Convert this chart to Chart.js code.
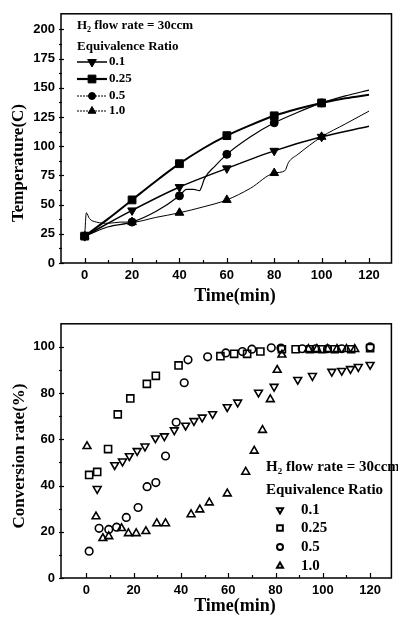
<!DOCTYPE html>
<html><head><meta charset="utf-8">
<script src="https://cdn.jsdelivr.net/npm/chart.js@4/dist/chart.umd.min.js"></script>
<style>
html,body{margin:0;padding:0;background:#fff;overflow:hidden;}
#w1{position:absolute;left:0;top:0;width:398px;height:310px;}
#w2{position:absolute;left:0;top:310px;width:398px;height:311px;}
</style></head><body>
<div id="w1"><canvas id="c1"></canvas></div>
<div id="w2"><canvas id="c2"></canvas></div>
<script>
// ---------- data ----------
const ratioLabels = ['0.1', '0.25', '0.5', '1.0'];
const flowLabel = 'H2 flow rate = 30ccm';
const xTickValues = [0, 10, 20, 30, 40, 50, 60, 70, 80, 90, 100, 110, 120];
const tempTickValues = [0, 12.5, 25, 37.5, 50, 62.5, 75, 87.5, 100, 112.5, 125, 137.5, 150, 162.5, 175, 187.5, 200];
const convTickValues = [0, 10, 20, 30, 40, 50, 60, 70, 80, 90, 100];
const markerTimes = [0, 20, 40, 60, 80, 100];

// Temperature curves (top)
const tempTime01 = [0, 20, 40, 60, 80, 100, 120];
const tempVal01  = [23, 45, 65, 81, 96, 108, 117];
const tempTime025 = [0, 10, 20, 30, 40, 50, 60, 70, 80, 90, 100, 110, 120];
const tempVal025  = [23, 38, 54, 70, 85, 98, 109, 118, 126, 132, 137, 141, 144];
const tempTime05 = [0, 10, 20, 30, 40, 43, 46, 48.5, 49.5, 50.5, 55, 60, 70, 80, 90, 100, 110, 120];
const tempVal05  = [23, 31, 35, 44, 57.5, 63, 63, 62, 66, 72, 83, 93, 108, 120, 129, 137, 143, 148];
const tempTime10 = [0, 0.7, 2, 5, 10, 15, 20, 30, 40, 50, 60, 70, 80, 84.5, 86, 90, 100, 110, 120];
const tempVal10  = [23, 43, 38, 35, 34, 35, 35, 39, 43, 48, 54, 64, 77, 79, 86, 93, 108, 119, 130];

// Conversion rate (bottom)
const convTime01 = [4.6, 12, 15.3, 18.2, 21.5, 24.8, 29.2, 33, 37.2, 42, 45.5, 49, 53.4, 59.6, 64, 72.8, 79.4, 89.4, 95.6, 103.8, 108, 111.7, 115, 120];
const convVal01  = [38.6, 48.9, 50.5, 52.8, 55, 57, 60.5, 61.4, 64, 66, 68, 69.5, 71, 74, 76, 80.3, 82.8, 85.8, 87.5, 89.3, 89.7, 90.5, 91.4, 92.3];
const convTime025 = [1.2, 4.6, 9.2, 13.3, 18.6, 25.6, 29.4, 39, 56.7, 62.5, 68, 73.6, 82.7, 88.5, 94.5, 99.7, 105, 112, 120];
const convVal025  = [44.6, 45.9, 55.8, 70.8, 77.7, 84, 87.5, 92, 96, 97, 97, 98, 99, 99, 99, 99, 99, 99, 99.5];
const convTime05 = [1.2, 5.4, 9.5, 12.8, 16.9, 21.9, 25.7, 29.4, 33.5, 38, 41.4, 43, 51.3, 59, 66, 70, 78.2, 82.3, 91.3, 97, 102, 108, 120];
const convVal05  = [11.6, 21.5, 21, 22, 26.2, 30.5, 39.5, 41.3, 52.8, 67.4, 84.5, 94.4, 95.7, 97.4, 98, 99, 99.6, 99.5, 99.2, 99.2, 99.2, 99.2, 100];
const convTime10 = [0.3, 4.1, 7, 9.5, 14.9, 17.8, 21.1, 25.2, 29.8, 33.5, 44.3, 48, 52, 59.6, 67.4, 71, 74.5, 77.8, 80.7, 82.7, 93.9, 97.5, 102, 106, 110, 113.5];
const convVal10  = [57, 26.6, 17.2, 18, 21.5, 19.3, 19.3, 20.2, 23.6, 23.6, 27.5, 29.6, 32.6, 36.5, 45.9, 55, 64, 77.3, 90, 96.6, 99, 99, 99, 99, 99, 99];

// ---------- helpers ----------
const pts = (xs, ys) => xs.map((x, i) => ({x: x, y: ys[i]}));
const SERIF = '"Liberation Serif", "Times New Roman", serif';
const SANS = '"Liberation Sans", Arial, sans-serif';

function setTicks(values) {
  return function (scale) { scale.ticks = values.map(v => ({value: v})); };
}

const framePlugin = {
  id: 'frame',
  afterDatasetsDraw(chart) {
    const {ctx, chartArea: a} = chart;
    ctx.save();
    ctx.strokeStyle = '#000';
    ctx.lineWidth = 1.5;
    ctx.strokeRect(a.left, a.top, a.right - a.left, a.bottom - a.top);
    const xs = chart.scales.x, ys = chart.scales.y;
    ctx.lineWidth = 1.2;
    const xMajor = chart.options.plugins.frame.xMajor, yMajor = chart.options.plugins.frame.yMajor;
    xs.ticks.forEach(t => {
      const px = Math.round(xs.getPixelForValue(t.value)) + 0.5;
      const len = (t.value % xMajor === 0) ? 5 : 3;
      ctx.beginPath(); ctx.moveTo(px, a.bottom); ctx.lineTo(px, a.bottom - len); ctx.stroke();
    });
    ys.ticks.forEach(t => {
      const py = Math.round(ys.getPixelForValue(t.value)) + 0.5;
      const len = (t.value % yMajor === 0) ? 5 : 3;
      ctx.beginPath(); ctx.moveTo(a.left - 2, py); ctx.lineTo(a.left + len - 2, py); ctx.stroke();
    });
    ctx.restore();
  }
};

function drawFlow(ctx, x, y, size) {
  ctx.textBaseline = 'middle';
  ctx.textAlign = 'left';
  ctx.font = 'bold ' + size + 'px ' + SERIF;
  ctx.fillText('H', x, y);
  const w = ctx.measureText('H').width;
  ctx.font = 'bold ' + Math.round(size * 0.6) + 'px ' + SERIF;
  ctx.fillText(flowLabel.charAt(1), x + w, y + size * 0.3);
  const w2 = ctx.measureText('2').width;
  ctx.font = 'bold ' + size + 'px ' + SERIF;
  ctx.fillText(flowLabel.slice(2), x + w + w2, y);
}

function drawRotTitle(ctx, text, cx, cy, size) {
  ctx.save();
  ctx.translate(cx, cy);
  ctx.rotate(-Math.PI / 2);
  ctx.font = 'bold ' + size + 'px ' + SERIF;
  ctx.textAlign = 'center';
  ctx.textBaseline = 'middle';
  ctx.fillText(text, 0, 0);
  ctx.restore();
}
function drawTitle(ctx, text, cx, cy, size) {
  ctx.font = 'bold ' + size + 'px ' + SERIF;
  ctx.textAlign = 'center';
  ctx.textBaseline = 'middle';
  ctx.fillText(text, cx, cy);
}

function axisX(min, max, h) {
  return {
    type: 'linear', min: min, max: max,
    afterBuildTicks: setTicks(xTickValues),
    afterFit: s => { s.height = h; },
    grid: {display: false, drawTicks: false},
    border: {display: false},
    ticks: {
      autoSkip: false, maxRotation: 0, padding: 5, color: '#000',
      font: {family: SANS, weight: 'bold', size: 13},
      callback: v => (v % 20 === 0 ? String(v) : '')
    }
  };
}
function axisY(min, max, tickVals, major) {
  return {
    type: 'linear', min: min, max: max,
    afterBuildTicks: setTicks(tickVals),
    afterFit: s => { s.width = 61; },
    grid: {display: false, drawTicks: false},
    border: {display: false},
    ticks: {
      autoSkip: false, padding: 6, color: '#000',
      font: {family: SANS, weight: 'bold', size: 13},
      callback: v => (v % major === 0 ? String(v) : '')
    }
  };
}

// ---------- top chart ----------
const markerAt = r => (ctx => (ctx.raw && markerTimes.indexOf(ctx.raw.x) >= 0 ? r : 0));
function lineDs(label, xs, ys, style, rot, r, bw) {
  return {
    label: label, data: pts(xs, ys), borderColor: '#000', backgroundColor: '#000',
    borderWidth: bw, pointStyle: style, pointRotation: rot,
    pointRadius: markerAt(r), pointBorderWidth: 1, pointHoverRadius: 0,
    cubicInterpolationMode: 'monotone', fill: false
  };
}

const topLegendPlugin = {
  id: 'topText',
  afterDraw(chart) {
    const ctx = chart.ctx;
    ctx.save();
    ctx.fillStyle = '#000';
    ctx.strokeStyle = '#000';
    drawFlow(ctx, 77, 26, 13);
    ctx.font = 'bold 13px ' + SERIF;
    ctx.textBaseline = 'middle';
    ctx.textAlign = 'left';
    ctx.fillText('Equivalence Ratio', 77, 47);
    const ys = [62, 79, 96, 111];
    const styles = [['triangle', 180, 5, 1.5, []], ['rect', 0, 5.5, 2.2, []], ['circle', 0, 3.5, 1, [2, 1]], ['triangle', 0, 4.5, 1, [2, 1]]];
    ys.forEach((y, i) => {
      const s = styles[i];
      ctx.lineWidth = s[3];
      ctx.setLineDash(s[4]);
      ctx.beginPath(); ctx.moveTo(77, y); ctx.lineTo(107, y); ctx.stroke();
      ctx.setLineDash([]);
      ctx.lineWidth = 1;
      Chart.helpers.drawPoint(ctx, {pointStyle: s[0], rotation: s[1], radius: s[2], borderWidth: 1}, 92, y);
      ctx.font = 'bold 13px ' + SERIF;
      ctx.fillText(ratioLabels[i], 109, y);
    });
    drawRotTitle(ctx, 'Temperature(C)', 19, 163, 17);
    drawTitle(ctx, 'Time(min)', 235, 296, 18);
    ctx.restore();
  }
};

new Chart(document.getElementById('c1'), {
  type: 'line',
  data: {
    datasets: [
      lineDs(ratioLabels[0], tempTime01, tempVal01, 'triangle', 180, 5, 1.5),
      lineDs(ratioLabels[1], tempTime025, tempVal025, 'rect', 0, 5.5, 2),
      lineDs(ratioLabels[2], tempTime05, tempVal05, 'circle', 0, 4, 1.2),
      lineDs(ratioLabels[3], tempTime10, tempVal10, 'triangle', 0, 5, 1)
    ]
  },
  options: {
    responsive: true, maintainAspectRatio: false, animation: false, devicePixelRatio: 1,
    layout: {padding: {top: 7, right: 0, left: 0, bottom: 0}},
    scales: {x: axisX(-10, 129.5, 47), y: axisY(0, 213.3, tempTickValues, 25)},
    plugins: {legend: {display: false}, tooltip: {enabled: false}, frame: {xMajor: 20, yMajor: 25}}
  },
  plugins: [framePlugin, topLegendPlugin]
});

// ---------- bottom chart ----------
function scatterDs(label, xs, ys, style, rot, r) {
  return {
    label: label, data: pts(xs, ys), borderColor: '#000', backgroundColor: 'rgba(0,0,0,0)',
    pointStyle: style, pointRotation: rot, pointRadius: r, pointBorderWidth: 1.6,
    pointHoverRadius: r, showLine: false
  };
}

const bottomLegendPlugin = {
  id: 'bottomText',
  afterDraw(chart) {
    const ctx = chart.ctx;
    ctx.save();
    ctx.fillStyle = '#000';
    ctx.strokeStyle = '#000';
    drawFlow(ctx, 266, 157.5, 15);
    ctx.font = 'bold 15px ' + SERIF;
    ctx.textBaseline = 'middle';
    ctx.textAlign = 'left';
    ctx.fillText('Equivalence Ratio', 266, 180);
    const ys = [200, 218, 237, 256];
    const styles = [['triangle', 180, 3.5], ['rect', 0, 4], ['circle', 0, 3], ['triangle', 0, 3.5]];
    ys.forEach((y, i) => {
      const s = styles[i];
      ctx.lineWidth = 2;
      ctx.fillStyle = 'rgba(0,0,0,0)';
      Chart.helpers.drawPoint(ctx, {pointStyle: s[0], rotation: s[1], radius: s[2], borderWidth: 2}, 280, y);
      ctx.fillStyle = '#000';
      ctx.font = 'bold 15px ' + SERIF;
      ctx.fillText(ratioLabels[i], 301, y);
    });
    drawRotTitle(ctx, 'Conversion rate(%)', 20, 146, 17);
    drawTitle(ctx, 'Time(min)', 235, 296, 18);
    ctx.restore();
  }
};

new Chart(document.getElementById('c2'), {
  type: 'scatter',
  data: {
    datasets: [
      scatterDs(ratioLabels[0], convTime01, convVal01, 'triangle', 180, 4.5),
      scatterDs(ratioLabels[1], convTime025, convVal025, 'rect', 0, 5),
      scatterDs(ratioLabels[2], convTime05, convVal05, 'circle', 0, 3.8),
      scatterDs(ratioLabels[3], convTime10, convVal10, 'triangle', 0, 4.5)
    ]
  },
  options: {
    responsive: true, maintainAspectRatio: false, animation: false, devicePixelRatio: 1,
    layout: {padding: {top: 12, right: 0, left: 0, bottom: 0}},
    scales: {x: axisX(-10.7, 129, 43), y: axisY(0, 110, convTickValues, 20)},
    plugins: {legend: {display: false}, tooltip: {enabled: false}, frame: {xMajor: 20, yMajor: 20}}
  },
  plugins: [framePlugin, bottomLegendPlugin]
});
</script>
</body></html>
